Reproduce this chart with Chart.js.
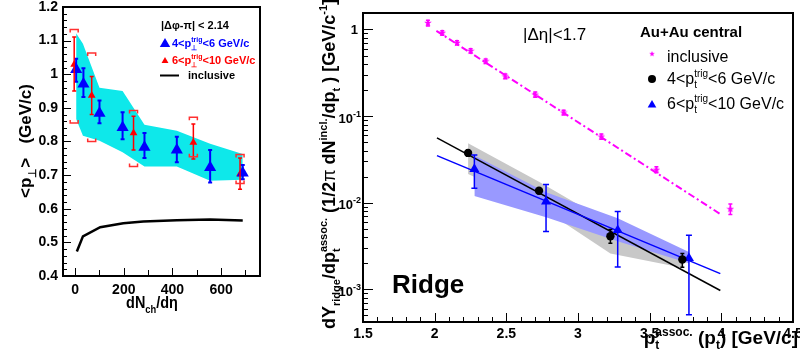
<!DOCTYPE html>
<html>
<head>
<meta charset="utf-8">
<script src="https://cdn.jsdelivr.net/npm/chart.js@4.4.1/dist/chart.umd.min.js"></script>
<style>
  html, body { margin: 0; padding: 0; background: #fff; }
  #wrap { position: relative; width: 800px; height: 364px; overflow: hidden; }
  #left { position: absolute; left: 0; top: 0; }
  #right { position: absolute; left: 300px; top: 0; }
</style>
</head>
<body>
<div id="wrap">
  <canvas id="left" width="300" height="364"></canvas>
  <canvas id="right" width="500" height="364"></canvas>
</div>
<script>
// ---- left panel: <pT> vs dNch/deta ----
const leftXTicks = [0, 200, 400, 600];
const leftYTicks = [0.4, 0.5, 0.6, 0.7, 0.8, 0.9, 1.0, 1.1, 1.2];

const multBlue = [4, 34, 100, 195, 285, 418, 555, 689];
const meanPtBlue = [1.014, 0.971, 0.884, 0.842, 0.783, 0.775, 0.723, 0.706];
const meanPtBlueLo = [0.978, 0.932, 0.854, 0.807, 0.751, 0.738, 0.678, 0.688];
const meanPtBlueHi = [1.046, 1.018, 0.922, 0.887, 0.825, 0.814, 0.775, 0.730];

const multRed = [-4, 68, 240, 486, 678];
const meanPtRed = [1.029, 0.937, 0.825, 0.797, 0.703];
const meanPtRedLo = [0.950, 0.880, 0.775, 0.748, 0.658];
const meanPtRedHi = [1.111, 0.993, 0.875, 0.852, 0.751];
const meanPtRedSysLo = [0.855, 0.800, 0.726, 0.755, 0.675];
const meanPtRedSysHi = [1.133, 1.063, 0.892, 0.872, 0.761];

const bandMult = [4, 32, 100, 195, 285, 418, 555, 689];
const bandUpper = [1.122, 1.091, 0.960, 0.950, 0.850, 0.832, 0.793, 0.763];
const bandLower = [0.867, 0.817, 0.802, 0.768, 0.726, 0.726, 0.683, 0.686];

const inclMult = [7, 32, 103, 198, 280, 418, 555, 689];
const inclMeanPt = [0.473, 0.518, 0.545, 0.557, 0.562, 0.566, 0.568, 0.565];

// ---- right panel: ridge yield vs pT assoc ----
const rightXTicks = [1.5, 2, 2.5, 3, 3.5, 4, 4.5];
const rightYTicks = [0.001, 0.01, 0.1, 1];

const inclPt = [1.953, 2.053, 2.156, 2.251, 2.356, 2.493, 2.702, 2.9, 3.163, 3.547, 4.063];
const inclYield = [1.19, 0.915, 0.70, 0.566, 0.43, 0.288, 0.177, 0.11, 0.058, 0.024, 0.00845];
const inclYieldLo = [1.10, 0.86, 0.66, 0.535, 0.405, 0.27, 0.165, 0.103, 0.054, 0.0222, 0.0073];
const inclYieldHi = [1.28, 0.97, 0.74, 0.60, 0.455, 0.306, 0.19, 0.117, 0.062, 0.026, 0.0097];
const inclFitPt = [2.012, 3.993];
const inclFit = [0.966, 0.0074];

const lowTrigPt = [2.233, 2.728, 3.226, 3.728];
const lowTrigYield = [0.0376, 0.01377, 0.00411, 0.00221];
const lowTrigLo = [0.0345, 0.0128, 0.0034, 0.0018];
const lowTrigHi = [0.041, 0.0148, 0.0049, 0.0026];
const lowTrigSysUp = [0.0485, 0.0175, 0.0058, 0.0025];
const lowTrigSysDn = [0.0214, 0.0091, 0.0026, 0.00178];

const highTrigPt = [2.277, 2.777, 3.277, 3.774];
const highTrigYield = [0.0245, 0.0103, 0.00482, 0.00229];
const highTrigLo = [0.0147, 0.00466, 0.00181, 0.00051];
const highTrigHi = [0.0356, 0.0162, 0.0079, 0.0042];
const highTrigSysUp = [0.035, 0.0132, 0.0066, 0.0027];
const highTrigSysDn = [0.012, 0.0068, 0.0036, 0.0020];

const fitPt = [2.016, 3.993];
const fitLowTrig = [0.056, 0.00097];
const fitHighTrig = [0.035, 0.00152];

const FONT = "'Liberation Sans', Arial, sans-serif";
Chart.defaults.font.family = FONT;
Chart.defaults.color = '#000';

const pts = (xs, ys) => xs.map((x, i) => ({ x, y: ys[i] }));

// text with sub/superscripts, parts like {t}, {sub}, {sup}, {sup, sub}
const rich = (ctx, parts, x, y, size, o = {}) => {
  const wt = o.weight || 'bold';
  const small = Math.round(size * 0.62);
  const font = (s, w) => `${w} ${s}px ${FONT}`;
  const partWidth = p => {
    if (p.t !== undefined) { ctx.font = font(size, p.w || wt); return ctx.measureText(p.t).width; }
    ctx.font = font(small, p.w || wt);
    return Math.max(ctx.measureText(p.sup || '').width, ctx.measureText(p.sub || '').width);
  };
  ctx.save();
  ctx.translate(x, y);
  if (o.rotate) ctx.rotate(o.rotate);
  ctx.scale(o.sx || 1, 1);
  const total = parts.reduce((s, p) => s + partWidth(p), 0);
  let cx = o.align === 'center' ? -total / 2 : o.align === 'right' ? -total : 0;
  ctx.fillStyle = o.color || '#000';
  ctx.textAlign = 'left';
  ctx.textBaseline = 'alphabetic';
  parts.forEach(p => {
    const w = partWidth(p);
    if (p.t !== undefined) ctx.fillText(p.t, cx, 0);
    else {
      if (p.sup) ctx.fillText(p.sup, cx, -size * 0.42);
      if (p.sub) ctx.fillText(p.sub, cx, size * 0.28);
    }
    cx += w;
  });
  ctx.restore();
};

const triangle = (ctx, x, y, r, color) => {
  ctx.fillStyle = color;
  ctx.beginPath();
  for (let i = 0; i < 3; i++) {
    const a = i * 2 * Math.PI / 3;
    ctx.lineTo(x + Math.sin(a) * r, y - Math.cos(a) * r);
  }
  ctx.closePath();
  ctx.fill();
};

const makeStar = (size, color) => {
  const c = document.createElement('canvas');
  c.width = c.height = size;
  const g = c.getContext('2d');
  const r = size / 2;
  g.fillStyle = color;
  g.beginPath();
  for (let i = 0; i < 10; i++) {
    const rr = i % 2 ? r * 0.42 : r;
    const a = -Math.PI / 2 + i * Math.PI / 5;
    g.lineTo(r + rr * Math.cos(a), r + rr * Math.sin(a));
  }
  g.closePath();
  g.fill();
  return c;
};
const starMarker = makeStar(8, '#ff00ff');

const errorBars = (ctx, xs, lo, hi, sx, sy, cap) => {
  ctx.beginPath();
  xs.forEach((v, i) => {
    const px = sx.getPixelForValue(v);
    const y1 = sy.getPixelForValue(lo[i]);
    const y2 = sy.getPixelForValue(hi[i]);
    ctx.moveTo(px, y1); ctx.lineTo(px, y2);
    if (cap) {
      ctx.moveTo(px - cap, y1); ctx.lineTo(px + cap, y1);
      ctx.moveTo(px - cap, y2); ctx.lineTo(px + cap, y2);
    }
  });
  ctx.stroke();
};

// ROOT-like frame with ticks pointing inwards
const frameAndTicks = (ctx, a, sx, sy, xt, yt) => {
  ctx.save();
  ctx.strokeStyle = '#000';
  ctx.lineWidth = 1;
  ctx.beginPath();
  xt.forEach(([v, len]) => {
    const px = Math.round(sx.getPixelForValue(v)) + 0.5;
    ctx.moveTo(px, a.bottom); ctx.lineTo(px, a.bottom - len);
  });
  yt.forEach(([v, len]) => {
    const py = Math.round(sy.getPixelForValue(v)) + 0.5;
    ctx.moveTo(a.left, py); ctx.lineTo(a.left + len, py);
  });
  ctx.stroke();
  ctx.lineWidth = 2;
  ctx.strokeRect(a.left, a.top, a.right - a.left, a.bottom - a.top);
  ctx.restore();
};

const fixedScale = (ticks, size, pad) => ({
  grid: { display: false, drawTicks: false },
  border: { display: false },
  afterBuildTicks: s => { s.ticks = ticks.map(v => ({ value: v })); },
  ticks: { font: { size, weight: 'bold' }, padding: pad, autoSkip: false, maxRotation: 0,
           callback: v => String(+Number(v).toFixed(2)) }
});

// ---------------- left chart ----------------
const leftDecor = {
  id: 'leftDecor',
  afterDatasetsDraw(chart) {
    const { ctx, scales: { x, y } } = chart;
    ctx.save();
    ctx.lineWidth = 2;
    ctx.strokeStyle = '#0000ff';
    errorBars(ctx, multBlue, meanPtBlueLo, meanPtBlueHi, x, y, 2);
    ctx.lineWidth = 1.5;
    ctx.strokeStyle = '#ff0000';
    errorBars(ctx, multRed, meanPtRedLo, meanPtRedHi, x, y, 2);
    // systematic brackets
    ctx.strokeStyle = '#ff3030';
    ctx.beginPath();
    multRed.forEach((v, i) => {
      const px = x.getPixelForValue(v);
      const top = y.getPixelForValue(meanPtRedSysHi[i]);
      const bot = y.getPixelForValue(meanPtRedSysLo[i]);
      ctx.moveTo(px - 4, top + 3); ctx.lineTo(px - 4, top); ctx.lineTo(px + 4, top); ctx.lineTo(px + 4, top + 3);
      ctx.moveTo(px - 4, bot - 3); ctx.lineTo(px - 4, bot); ctx.lineTo(px + 4, bot); ctx.lineTo(px + 4, bot - 3);
    });
    ctx.stroke();
    ctx.restore();
  },
  afterDraw(chart) {
    const { ctx, chartArea: a, scales: { x, y } } = chart;
    const xt = [], yt = [];
    for (let v = 0; v <= 700; v += 100) xt.push([v, v % 200 === 0 ? 8 : 6]);
    for (let k = 20; k <= 60; k++) yt.push([k / 50, k % 5 === 0 ? 8 : 4]);
    frameAndTicks(ctx, a, x, y, xt, yt);

    // axis titles
    rich(ctx, [{ t: 'dN' }, { sub: 'ch' }, { t: '/d\u03b7' }], 152, 308, 17, { align: 'center', sx: 0.85 });
    rich(ctx, [{ t: '<p' }, { sub: '\u22a5' }, { t: '>   (GeV/c)' }], 31, 141, 17,
      { align: 'center', rotate: -Math.PI / 2 });

    // legend
    rich(ctx, [{ t: '|\u0394\u03c6-\u03c0| < 2.14' }], 161, 29, 11);
    triangle(ctx, 165, 44, 6, '#0000ff');
    rich(ctx, [{ t: '4<p' }, { sup: 'trig', sub: '\u22a5' }, { t: '<6 GeV/c' }], 172, 47, 11, { color: '#0000ff' });
    triangle(ctx, 165, 61, 4, '#ff0000');
    rich(ctx, [{ t: '6<p' }, { sup: 'trig', sub: '\u22a5' }, { t: '<10 GeV/c' }], 172, 64, 11, { color: '#ff0000' });
    ctx.save();
    ctx.strokeStyle = '#000';
    ctx.lineWidth = 2;
    ctx.beginPath(); ctx.moveTo(160, 75.5); ctx.lineTo(179, 75.5); ctx.stroke();
    ctx.restore();
    rich(ctx, [{ t: 'inclusive' }], 188, 79, 11);
  }
};

new Chart(document.getElementById('left'), {
  type: 'line',
  data: {
    datasets: [
      { data: pts(multBlue, meanPtBlue), showLine: false, pointStyle: 'triangle', pointRadius: 7,
        pointBackgroundColor: '#0000ff', pointBorderWidth: 0, order: 0 },
      { data: pts(multRed, meanPtRed), showLine: false, pointStyle: 'triangle', pointRadius: 4.5,
        pointBackgroundColor: '#ff0000', pointBorderWidth: 0, order: 1 },
      { data: pts(inclMult, inclMeanPt), borderColor: '#000', borderWidth: 2.5, pointRadius: 0, order: 2 },
      { data: pts(bandMult, bandUpper), borderWidth: 0, borderColor: 'transparent', pointRadius: 0,
        fill: '+1', backgroundColor: '#0ee8ea', order: 3 },
      { data: pts(bandMult, bandLower), borderWidth: 0, borderColor: 'transparent', pointRadius: 0, order: 4 }
    ]
  },
  options: {
    responsive: false,
    animation: false,
    events: [],
    layout: { padding: { left: 0, top: 5, right: 40, bottom: 0 } },
    plugins: { legend: { display: false }, tooltip: { enabled: false } },
    scales: {
      x: { type: 'linear', min: -50, max: 760, ...fixedScale(leftXTicks, 14, 6),
           afterFit: s => { s.height = 88; s.paddingLeft = 0; s.paddingRight = 0; } },
      y: { type: 'linear', min: 0.4, max: 1.2, ...fixedScale(leftYTicks, 14, 5),
           afterFit: s => { s.width = 63; s.paddingTop = 0; s.paddingBottom = 0; } }
    }
  },
  plugins: [leftDecor]
});

// ---------------- right chart ----------------
const rightDecor = {
  id: 'rightDecor',
  afterDatasetsDraw(chart) {
    const { ctx, scales: { x, y } } = chart;
    ctx.save();
    ctx.lineWidth = 1.5;
    ctx.strokeStyle = '#ff00ff';
    errorBars(ctx, inclPt, inclYieldLo, inclYieldHi, x, y, 2);
    ctx.strokeStyle = '#000';
    errorBars(ctx, lowTrigPt, lowTrigLo, lowTrigHi, x, y, 2);
    ctx.strokeStyle = '#0000ff';
    errorBars(ctx, highTrigPt, highTrigLo, highTrigHi, x, y, 3);
    ctx.restore();
  },
  afterDraw(chart) {
    const { ctx, chartArea: a, scales: { x, y } } = chart;
    const xt = [], yt = [];
    for (let k = 15; k <= 45; k++) xt.push([k / 10, k % 5 === 0 ? 9 : 5]);
    for (let e = -4; e <= 0; e++) {
      for (let m = 1; m <= 9; m++) {
        const v = m * Math.pow(10, e);
        if (v >= y.min && v <= y.max) yt.push([v, m === 1 ? 10 : 5]);
      }
    }
    frameAndTicks(ctx, a, x, y, xt, yt);

    // y tick labels with exponents
    ctx.save();
    ctx.fillStyle = '#000';
    ctx.textAlign = 'right';
    ctx.textBaseline = 'middle';
    rightYTicks.forEach(v => {
      const py = y.getPixelForValue(v);
      const e = Math.round(Math.log10(v));
      if (e === 0) {
        ctx.font = `bold 13px ${FONT}`;
        ctx.fillText('1', a.left - 5, py + 1);
      } else {
        ctx.font = `bold 9px ${FONT}`;
        const sup = String(e);
        const ws = ctx.measureText(sup).width;
        ctx.fillText(sup, a.left - 2, py - 2);
        ctx.font = `bold 13px ${FONT}`;
        ctx.fillText('10', a.left - 2 - ws, py + 3);
      }
    });
    ctx.restore();

    // axis titles
    rich(ctx, [{ t: 'p' }, { sup: 'assoc.', sub: 't' }, { t: ' (p' }, { sub: 't' }, { t: ') [GeV/c]' }],
      498, 344, 19, { align: 'right' });
    rich(ctx, [{ t: 'dY' }, { sub: 'ridge' }, { t: '/dp' }, { sup: 'assoc.', sub: 't' }, { t: ' (1/2' },
      { t: '\u03c0', w: 'normal' }, { t: ' dN' }, { sup: 'incl.' }, { t: '/dp' }, { sub: 't' },
      { t: ' ) [GeV/c' }, { sup: '-1' }, { t: ']' }], 35, 164, 18, { align: 'center', rotate: -Math.PI / 2 });

    // labels and legend
    rich(ctx, [{ t: '|\u0394\u03b7|<1.7' }], 223, 40, 17, { weight: 'normal' });
    rich(ctx, [{ t: 'Ridge' }], 92, 293, 26);
    rich(ctx, [{ t: 'Au+Au central' }], 340, 37, 15);
    ctx.drawImage(starMarker, 352 - 3, 54 - 3, 6, 6);
    rich(ctx, [{ t: 'inclusive' }], 367, 62, 16, { weight: 'normal' });
    ctx.save();
    ctx.fillStyle = '#000';
    ctx.beginPath(); ctx.arc(352, 79, 4, 0, 2 * Math.PI); ctx.fill();
    ctx.restore();
    rich(ctx, [{ t: '4<p' }, { sup: 'trig', sub: 't' }, { t: '<6 GeV/c' }], 367, 84, 16, { weight: 'normal' });
    triangle(ctx, 352, 105, 5, '#0000ff');
    rich(ctx, [{ t: '6<p' }, { sup: 'trig', sub: 't' }, { t: '<10 GeV/c' }], 367, 109, 16, { weight: 'normal' });
  }
};

new Chart(document.getElementById('right'), {
  type: 'line',
  data: {
    datasets: [
      { data: pts(inclPt, inclYield), showLine: false, pointStyle: starMarker, order: 0 },
      { data: pts(lowTrigPt, lowTrigYield), showLine: false, pointStyle: 'circle', pointRadius: 4.2,
        pointBackgroundColor: '#000', pointBorderWidth: 0, order: 1 },
      { data: pts(highTrigPt, highTrigYield), showLine: false, pointStyle: 'triangle', pointRadius: 5.8,
        pointBackgroundColor: '#0000ff', pointBorderWidth: 0, order: 2 },
      { data: pts(inclFitPt, inclFit), borderColor: '#ff00ff', borderWidth: 2, borderDash: [7, 3, 2, 3],
        pointRadius: 0, order: 3 },
      { data: pts(fitPt, fitHighTrig), borderColor: '#0000ff', borderWidth: 1.5, pointRadius: 0, order: 4 },
      { data: pts(fitPt, fitLowTrig), borderColor: '#000', borderWidth: 1.5, pointRadius: 0, order: 5 },
      { data: pts(highTrigPt, highTrigSysUp), borderWidth: 0, borderColor: 'transparent', pointRadius: 0,
        fill: '+1', backgroundColor: '#9999ff', order: 6 },
      { data: pts(highTrigPt, highTrigSysDn), borderWidth: 0, borderColor: 'transparent', pointRadius: 0, order: 7 },
      { data: pts(lowTrigPt, lowTrigSysUp), borderWidth: 0, borderColor: 'transparent', pointRadius: 0,
        fill: '+1', backgroundColor: '#c8c8c8', order: 8 },
      { data: pts(lowTrigPt, lowTrigSysDn), borderWidth: 0, borderColor: 'transparent', pointRadius: 0, order: 9 }
    ]
  },
  options: {
    responsive: false,
    animation: false,
    events: [],
    layout: { padding: { left: 0, top: 13, right: 7, bottom: 0 } },
    plugins: { legend: { display: false }, tooltip: { enabled: false } },
    scales: {
      x: { type: 'linear', min: 1.5, max: 4.5, ...fixedScale(rightXTicks, 14, 4),
           afterFit: s => { s.height = 42; s.paddingLeft = 0; s.paddingRight = 0; } },
      y: { type: 'logarithmic', min: 0.00042, max: 1.55, grid: { display: false, drawTicks: false },
           border: { display: false },
           afterBuildTicks: s => { s.ticks = rightYTicks.map(v => ({ value: v })); },
           ticks: { display: false },
           afterFit: s => { s.width = 63; s.paddingTop = 0; s.paddingBottom = 0; } }
    }
  },
  plugins: [rightDecor]
});
</script>
</body>
</html>
